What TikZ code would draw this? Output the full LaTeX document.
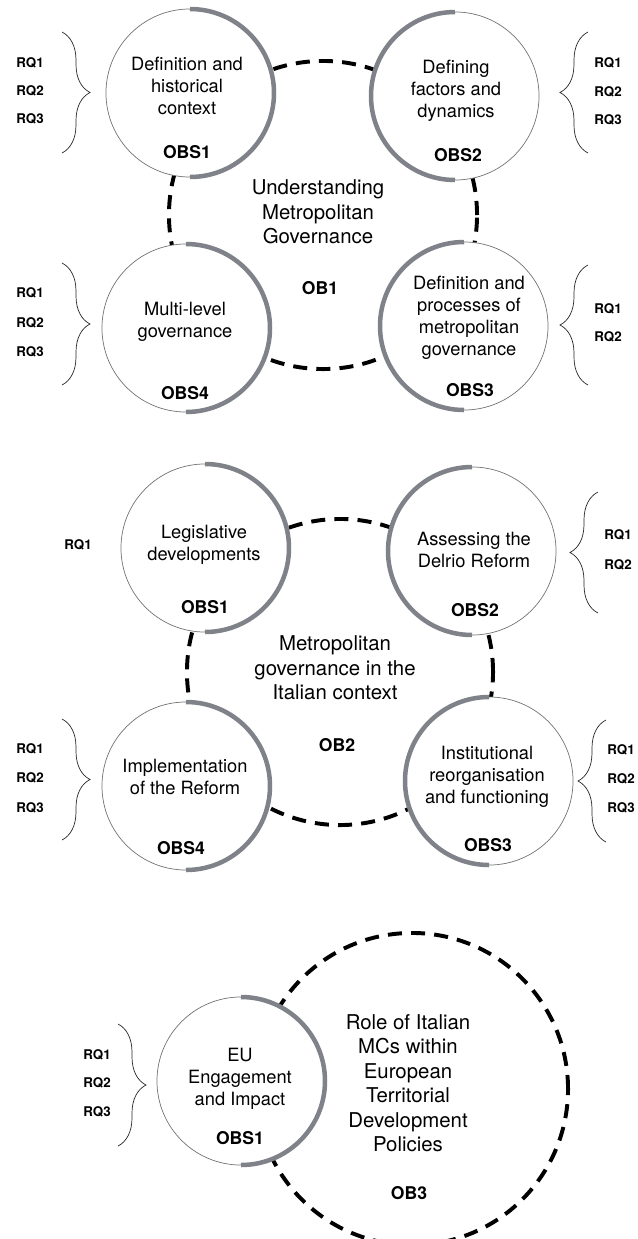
\documentclass[tikz,border=0pt]{standalone}
\usepackage{fontspec}
\setmainfont{TeX Gyre Heros}
\usetikzlibrary{decorations.pathreplacing, positioning}
\definecolor{arcgray}{RGB}{128,130,138}
\tikzset{
  obs/.style={circle, draw=black!55, line width=0.5pt, fill=white,
              minimum size=4.2cm, inner sep=0pt},
  obring/.style={circle, draw, line width=2.8pt, dash pattern=on 10pt off 6.5pt,
                 inner sep=0pt},
  obsarc/.style={draw=arcgray, line width=3.2pt},
  desc/.style={align=center, font=\fontsize{13}{15.6}\selectfont},
  topic/.style={align=center, font=\fontsize{14.5}{17.4}\selectfont},
  obslbl/.style={font=\fontsize{12.5}{15}\selectfont\bfseries},
  rq/.style={font=\fontsize{9.5}{11}\selectfont\bfseries},
  rqbrace/.style={decorate, decoration={brace, amplitude=0.7cm},
                  draw=black!85, line width=0.5pt},
}

\begin{document}
\begin{tikzpicture}[x=0.025cm, y=0.025cm]
  \useasboundingbox (0,0) rectangle (638,-1239);

  % OB1
  \node[obring, minimum size=7.7cm] (ob1) at (323,-215) {};
  \node[obs] (a1) at (190,-93) {};
  \node[obs] (a2) at (455,-96) {};
  \node[obs] (a3) at (464,-326) {};
  \node[obs] (a4) at (186,-328) {};

  \node[desc] (a1t) at (187,-86) {Definition and\\historical\\context};
  \node[obslbl] (a1l) at (187,-152) {OBS1};
  \node[desc] (a2t) at (456,-91) {Defining\\factors and\\dynamics};
  \node[obslbl] (a2l) at (458,-155) {OBS2};
  \node[desc] (a3t) at (469,-318) {Definition and\\processes of\\metropolitan\\governance};
  \node[obslbl] (a3l) at (470,-390) {OBS3};
  \node[desc] (a4t) at (185,-322) {Multi-level\\governance};
  \node[obslbl] (a4l) at (185,-393) {OBS4};

  \node[topic] (ob1t) at (318,-212) {Understanding\\Metropolitan\\Governance};
  \node[obslbl] (ob1l) at (320,-288) {OB1};

  \foreach \y [count=\i] in {63,91,119}
    \node[rq] (a1q\i) at (30,-\y) {RQ\i};
  \foreach \y [count=\i] in {63,92,120}
    \node[rq] (a2q\i) at (608,-\y) {RQ\i};
  \foreach \y [count=\i] in {293,323,352}
    \node[rq] (a4q\i) at (30,-\y) {RQ\i};
  \foreach \y [count=\i] in {309,337}
    \node[rq] (a3q\i) at (608,-\y) {RQ\i};

  \draw[rqbrace] (62,-32) -- (62,-153);
  \draw[rqbrace] (588,-153) -- (588,-32);
  \draw[rqbrace] (62,-263) -- (62,-385);
  \draw[rqbrace] (588,-385) -- (588,-265);

  % OB2
  \node[obring, minimum size=7.65cm] (ob2) at (340,-672) {};
  \node[obs] (b1) at (205,-548) {};
  \node[obs] (b2) at (472,-551) {};
  \node[obs] (b3) at (489,-781) {};
  \node[obs] (b4) at (186,-786) {};

  \node[desc] (b1t) at (204,-545) {Legislative\\developments};
  \node[obslbl] (b1l) at (205,-607) {OBS1};
  \node[desc] (b2t) at (474,-550) {Assessing the\\Delrio Reform};
  \node[obslbl] (b2l) at (475,-610) {OBS2};
  \node[desc] (b3t) at (487,-777) {Institutional\\reorganisation\\and functioning};
  \node[obslbl] (b3l) at (488,-845) {OBS3};
  \node[desc] (b4t) at (185,-777) {Implementation\\of the Reform};
  \node[obslbl] (b4l) at (181,-848) {OBS4};

  \node[topic] (ob2t) at (335,-668) {Metropolitan\\governance in the\\Italian context};
  \node[obslbl] (ob2l) at (337,-745) {OB2};

  \node[rq] (b1q1) at (78,-545) {RQ1};
  \foreach \y [count=\i] in {535,565}
    \node[rq] (b2q\i) at (618,-\y) {RQ\i};
  \foreach \y [count=\i] in {749,778,808}
    \node[rq] (b4q\i) at (30,-\y) {RQ\i};
  \foreach \y [count=\i] in {750,779,808}
    \node[rq] (b3q\i) at (621,-\y) {RQ\i};

  \draw[rqbrace] (598,-613) -- (598,-492);
  \draw[rqbrace] (62,-719) -- (62,-840);
  \draw[rqbrace] (606,-842) -- (606,-720);

  % OB3
  \node[obring, minimum size=7.8cm] (ob3) at (412,-1089) {};
  \node[obs] (c1) at (241,-1081) {};

  \node[desc] (c1t) at (240,-1079) {EU\\Engagement\\and Impact};
  \node[obslbl] (c1l) at (240,-1138) {OBS1};

  \node[topic] (ob3t) at (408,-1083)
    {Role of Italian\\MCs within\\European\\Territorial\\Development\\Policies};
  \node[obslbl] (ob3l) at (409,-1193) {OB3};

  \foreach \y [count=\i] in {1055,1083,1112}
    \node[rq] (c1q\i) at (97,-\y) {RQ\i};
  \draw[rqbrace] (118,-1024) -- (118,-1146);

  % grey arcs on the inner half of each circle
  \foreach \n in {a1,a4,b1,b4,c1}
    \draw[obsarc] (\n.center) ++(90:84) arc[start angle=90, end angle=-90, radius=84];
  \foreach \n in {a2,a3,b2,b3}
    \draw[obsarc] (\n.center) ++(90:84) arc[start angle=90, end angle=270, radius=84];

\end{tikzpicture}
\end{document}
